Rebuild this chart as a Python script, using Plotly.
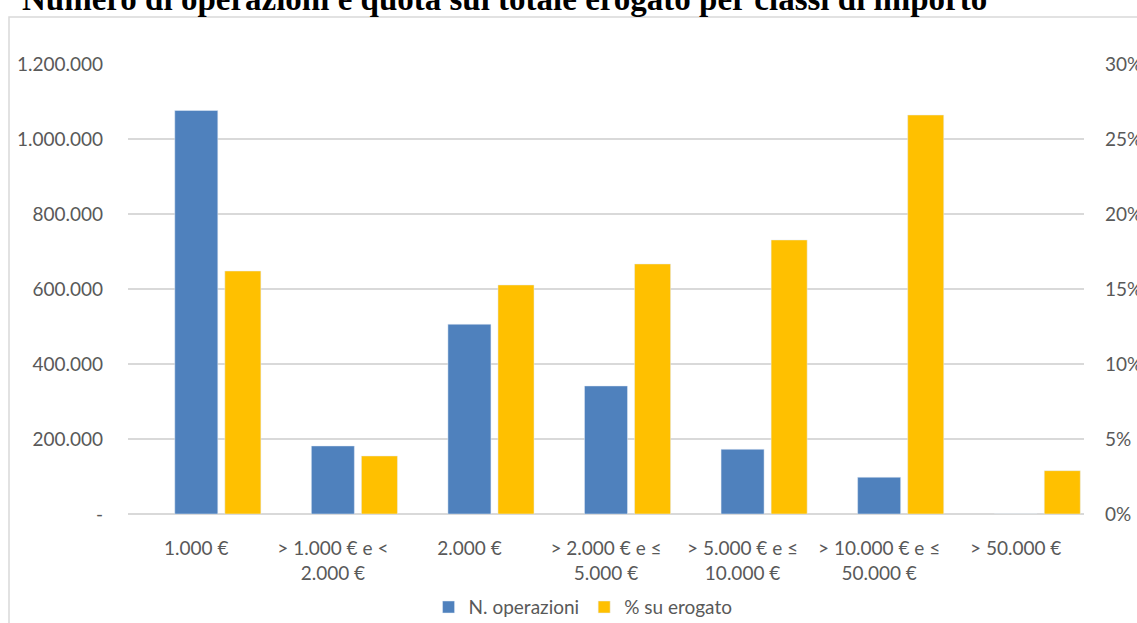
import plotly.graph_objects as go

categories = ["1.000 €", "> 1.000 € e <<br>2.000 €", "2.000 €", "> 2.000 € e ≤<br>5.000 €",
              "> 5.000 € e ≤<br>10.000 €", "> 10.000 € e ≤<br>50.000 €", "> 50.000 €"]
n_operazioni = [1076000, 181500, 506000, 341500, 172500, 98000, 0]
perc_erogato = [0.162, 0.0387, 0.1527, 0.1667, 0.1827, 0.266, 0.0289]

left_ticks = [0, 200000, 400000, 600000, 800000, 1000000, 1200000]
left_labels = ["-", "200.000", "400.000", "600.000", "800.000", "1.000.000", "1.200.000"]
right_ticks = [0, 0.05, 0.10, 0.15, 0.20, 0.25, 0.30]
right_labels = ["0%", "5%", "10%", "15%", "20%", "25%", "30%"]

xs = list(range(len(categories)))
font_fam = "Lato, 'Open Sans', sans-serif"
gray = "#595959"
fs = 19

fig = go.Figure()
fig.add_trace(go.Bar(x=xs, y=n_operazioni, name="N. operazioni", marker_color="#4F81BD",
                     offset=-0.1575, width=0.315, yaxis="y"))
fig.add_trace(go.Bar(x=xs, y=perc_erogato, name="% su erogato", marker_color="#FFC000",
                     offset=0.209, width=0.264, yaxis="y2"))

fig.update_layout(
    width=1137, height=623,
    margin=dict(l=128, r=53, t=64, b=109, autoexpand=False),
    paper_bgcolor="white", plot_bgcolor="white",
    barmode="overlay",
    font=dict(family=font_fam, size=fs, color=gray),
    xaxis=dict(tickmode="array", tickvals=xs, ticktext=categories, range=[-0.5, 6.5],
               showgrid=False, zeroline=False, showline=False, ticks="", automargin=False,
               ticklabelstandoff=21, tickfont=dict(size=fs, color=gray)),
    yaxis=dict(range=[0, 1200000], tickvals=left_ticks, ticktext=left_labels,
               showgrid=True, gridcolor="#D9D9D9", gridwidth=1.5, zeroline=True,
               zerolinecolor="#D9D9D9", zerolinewidth=2, ticks="", ticklabelstandoff=24,
               automargin=False, tickfont=dict(size=fs, color=gray)),
    yaxis2=dict(range=[0, 0.30], tickvals=right_ticks, ticktext=right_labels,
                overlaying="y", side="right", showgrid=False, zeroline=False, ticks="",
                automargin=False, ticklabelstandoff=20, tickfont=dict(size=fs, color=gray)),
    legend=dict(orientation="h", x=0.476, xanchor="center", y=-0.207, yanchor="middle",
                font=dict(size=fs, color=gray), traceorder="normal"),
    showlegend=True,
)

fig.add_shape(type="rect", xref="paper", yref="paper",
              x0=(9 - 128) / 956, x1=(1145 - 128) / 956, y0=(514 - 630) / 450, y1=(514 - 17) / 450,
              line=dict(color="#D9D9D9", width=1.5), fillcolor="rgba(0,0,0,0)", layer="below")

fig.add_annotation(text="<b>Numero di operazioni e quota sul totale erogato per classi di importo</b>",
                   xref="paper", yref="paper", x=(20 - 128) / 956, y=(514 - 19) / 450,
                   xanchor="left", yanchor="bottom", showarrow=False,
                   font=dict(family="'Liberation Serif', 'Times New Roman', serif", size=33, color="black"))

fig.write_html("out.html", config={"displayModeBar": False},
               post_script="document.body.style.margin='0px';document.body.style.overflow='hidden';")
